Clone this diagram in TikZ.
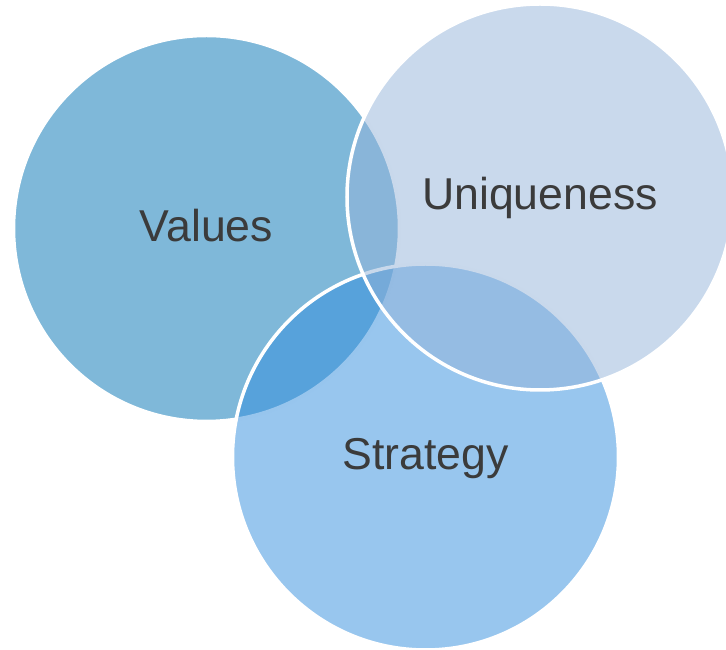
\documentclass[tikz,border=0pt]{standalone}
\usepackage{fontspec}
\setmainfont{Liberation Sans}
\newcommand*{\labelfont}{\fontsize{25.4}{30}\selectfont}
\definecolor{values}{RGB}{127,184,217}
\definecolor{strategy}{RGB}{49,141,221}
\definecolor{uniqueness}{RGB}{147,179,217}
\definecolor{textgrey}{RGB}{59,59,59}
\usetikzlibrary{positioning}
\tikzstyle{base}=[inner sep=0pt, outer sep=0pt]
\tikzstyle{disc}=[circle, draw=white, line width=2pt, minimum size=7.72cm, text=textgrey, text opacity=1, text height=18.2pt, text depth=0.12cm, font=\labelfont]

\begin{document}
\begin{tikzpicture}[base]
    \useasboundingbox (0,0) rectangle (14.52,13);
        % drawn in this order so the pale circle lies on top
        \node [disc, fill=values] (values) at (4.13,8.43) {Values};
        \node [disc, fill=strategy, fill opacity=0.5] (strategy) at (8.51,3.86) {Strategy};
        \node [disc, fill=uniqueness, fill opacity=0.5] (uniqueness) at (10.8,9.06) {Uniqueness};
    \end{tikzpicture}
\end{document}
